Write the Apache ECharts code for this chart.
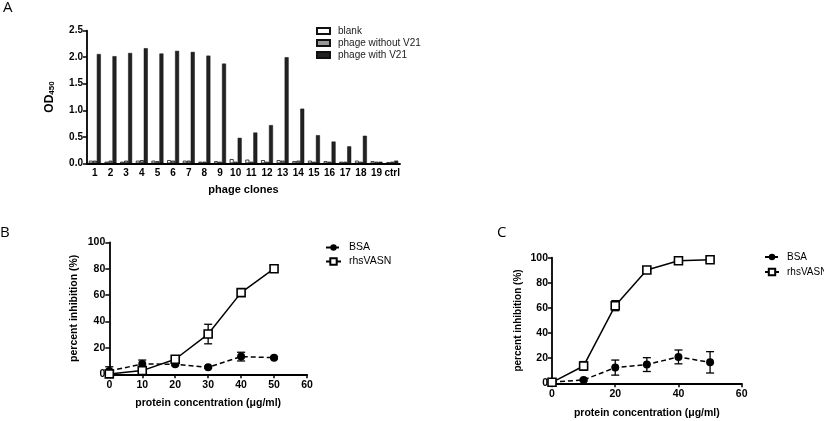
<!DOCTYPE html>
<html><head><meta charset="utf-8">
<script src="https://cdn.jsdelivr.net/npm/echarts@6/dist/echarts.min.js"></script>
<style>html,body{margin:0;padding:0;background:#fff}#c{width:824px;height:421px}</style>
</head><body><div id="c"></div>
<script>
const clones = ['1','2','3','4','5','6','7','8','9','10','11','12','13','14','15','16','17','18','19','ctrl'];
const blank = [0.05,0.03,0.03,0.05,0.05,0.06,0.05,0.03,0.04,0.08,0.07,0.06,0.06,0.04,0.05,0.04,0.03,0.05,0.04,0.02];
const phageWithout = [0.05,0.05,0.05,0.06,0.04,0.05,0.05,0.03,0.03,0.03,0.03,0.03,0.05,0.05,0.03,0.03,0.03,0.03,0.03,0.03];
const phageWith = [2.06,2.02,2.08,2.17,2.07,2.12,2.10,2.03,1.88,0.48,0.58,0.72,2.00,1.03,0.53,0.41,0.32,0.52,0.03,0.05];

const conc = [0,10,20,30,40,50];
const bsaB = [2.5,7.8,7.6,5.3,13.4,12.6];
const bsaBErr = [3.2,3.0,1.0,0.8,3.3,0.8];
const vasnB = [0.3,2.8,11.4,30.5,61.9,80.0];
const vasnBErr = [0.5,1.0,2.0,7.4,1.0,1.0];
const bsaC = [1.0,2.7,12.5,14.9,21.0,16.7];
const bsaCErr = [0.8,0.8,6.0,5.5,5.5,8.5];
const vasnC = [0.8,13.8,61.8,90.2,97.6,98.4];
const vasnCErr = [0.8,3.5,4.0,1.0,1.0,1.0];

const F = 'Liberation Sans, Arial, sans-serif';
const chart = echarts.init(document.getElementById('c'));

function errRender(params, api){
  const x = api.value(0);
  const lo = api.coord([x, api.value(1)]);
  const hi = api.coord([x, api.value(2)]);
  const w = 4;
  const st = {stroke:'#000', lineWidth:1.3};
  return {type:'group', children:[
    {type:'line', shape:{x1:lo[0],y1:lo[1],x2:hi[0],y2:hi[1]}, style:st},
    {type:'line', shape:{x1:lo[0]-w,y1:lo[1],x2:lo[0]+w,y2:lo[1]}, style:st},
    {type:'line', shape:{x1:hi[0]-w,y1:hi[1],x2:hi[0]+w,y2:hi[1]}, style:st}
  ]};
}
function pts(v){ return conc.map((x,i)=>[x, v[i]]); }
function errs(v,e){ return conc.map((x,i)=>[x, v[i]-e[i], v[i]+e[i]]); }

const axLine = {lineStyle:{color:'#000', width:1.8}};
const axTick = {show:true, inside:false, length:4, lineStyle:{color:'#000', width:1.5}};
const lbl = (sz)=>({color:'#000', fontFamily:F, fontWeight:'bold', fontSize:sz});

function valX(gi, interval, sz, nsz, gap){
  return {type:'value', gridIndex:gi, min:0, max:60, interval:interval,
    name:'protein concentration (μg/ml)', nameLocation:'middle', nameGap:gap,
    nameTextStyle:lbl(nsz), axisLine:axLine, axisTick:axTick, axisLabel:Object.assign(lbl(sz),{margin:5}),
    splitLine:{show:false}};
}
function valY(gi, sz, nsz, gap){
  return {type:'value', gridIndex:gi, min:0, max:100, interval:20,
    name:'percent inhibition (%)', nameLocation:'middle', nameGap:gap,
    nameTextStyle:lbl(nsz), axisLine:Object.assign({show:true},axLine), axisTick:axTick, axisLabel:Object.assign(lbl(sz),{margin:4}),
    splitLine:{show:false}};
}
function lineSeries(name, data, xi, dashed, sym){
  return {type:'line', name:name, xAxisIndex:xi, yAxisIndex:xi, data:data, z:3,
    symbol: sym==='circle'?'circle':'rect', symbolSize: 8,
    showAllSymbol:true,
    itemStyle: sym==='circle'?{color:'#000'}:{color:'#fff', borderColor:'#000', borderWidth:1.6},
    lineStyle:{color:'#000', width:1.5, type: dashed?[5,3]:'solid'},
    emphasis:{disabled:true}, animation:false};
}
function errSeries(data, xi){
  return {type:'custom', xAxisIndex:xi, yAxisIndex:xi, data:data, renderItem:errRender,
    encode:{x:0, y:[1,2]}, z:2, silent:true, animation:false};
}
const legTxt = (sz,lh)=>({fontFamily:F, fontSize:sz, lineHeight:lh, color:'#000', padding:[0,0,0,3]});

const option = {
  animation:false,
  textStyle:{fontFamily:F},
  grid:[
    {left:87, top:30.7, width:313, height:132.6},
    {left:109.3, top:242.3, width:197.7, height:132},
    {left:552, top:257.7, width:189.7, height:125.6}
  ],
  graphic:[
    {type:'text', left:3, top:0, style:{text:'A', font:'15px "Open Sans", sans-serif', fill:'#000'}},
    {type:'text', left:0, top:225, style:{text:'B', font:'15px "Open Sans", sans-serif', fill:'#000'}},
    {type:'text', left:497, top:225, style:{text:'C', font:'15px "Open Sans", sans-serif', fill:'#000'}}
  ],
  legend:[
    {orient:'vertical', left:311, top:21, itemWidth:13, itemHeight:6, itemGap:2, icon:'rect',
     data:['blank','phage without V21','phage with V21'],
     textStyle:Object.assign(legTxt(10,10),{color:'#222'})},
    {orient:'vertical', left:320, top:237, itemWidth:15, itemHeight:8, itemGap:3,
     data:['BSA','rhsVASN'], textStyle:legTxt(10.5,11)},
    {orient:'vertical', left:759, top:246.5, itemWidth:14, itemHeight:8, itemGap:4,
     data:['BSA ','rhsVASN '], textStyle:legTxt(10,11)}
  ],
  xAxis:[
    {type:'category', gridIndex:0, data:clones, name:'phage clones', nameLocation:'middle', nameGap:21,
     nameTextStyle:lbl(11), axisLine:axLine, axisTick:{show:false}, axisLabel:Object.assign(lbl(10),{margin:5, interval:0})},
    valX(1, 10, 10.5, 10.5, 23),
    valX(2, 20, 10.5, 10.5, 24)
  ],
  yAxis:[
    {type:'value', gridIndex:0, min:0, max:2.5, interval:0.5,
     name:'{a|OD}{b|450}', nameLocation:'middle', nameGap:31,
     nameTextStyle:{rich:{a:{fontFamily:F, fontWeight:'bold', fontSize:12, color:'#000'}, b:{fontFamily:F, fontWeight:'bold', fontSize:8, color:'#000', padding:[5,0,0,0]}}},
     axisLine:Object.assign({show:true},axLine), axisTick:axTick,
     axisLabel:Object.assign(lbl(10),{margin:4, formatter:(v)=>v.toFixed(1)}), splitLine:{show:false}},
    valY(1, 10.5, 10.5, 30),
    valY(2, 10.5, 10, 29)
  ],
  series:[
    {type:'bar', name:'blank', xAxisIndex:0, yAxisIndex:0, data:blank, barWidth:4, barGap:'0%',
     itemStyle:{color:'#fff', borderColor:'#111', borderWidth:0.8}, animation:false},
    {type:'bar', name:'phage without V21', xAxisIndex:0, yAxisIndex:0, data:phageWithout, barWidth:4, barGap:'0%',
     itemStyle:{color:'#999', borderColor:'#111', borderWidth:0.8}, animation:false},
    {type:'bar', name:'phage with V21', xAxisIndex:0, yAxisIndex:0, data:phageWith, barWidth:4, barGap:'0%',
     itemStyle:{color:'#222', borderColor:'#111', borderWidth:0.5}, animation:false},
    errSeries(errs(bsaB,bsaBErr),1),
    errSeries(errs(vasnB,vasnBErr),1),
    lineSeries('BSA', pts(bsaB), 1, true, 'circle'),
    lineSeries('rhsVASN', pts(vasnB), 1, false, 'rect'),
    errSeries(errs(bsaC,bsaCErr),2),
    errSeries(errs(vasnC,vasnCErr),2),
    lineSeries('BSA ', pts(bsaC), 2, true, 'circle'),
    lineSeries('rhsVASN ', pts(vasnC), 2, false, 'rect')
  ]
};
chart.setOption(option);
</script></body></html>
